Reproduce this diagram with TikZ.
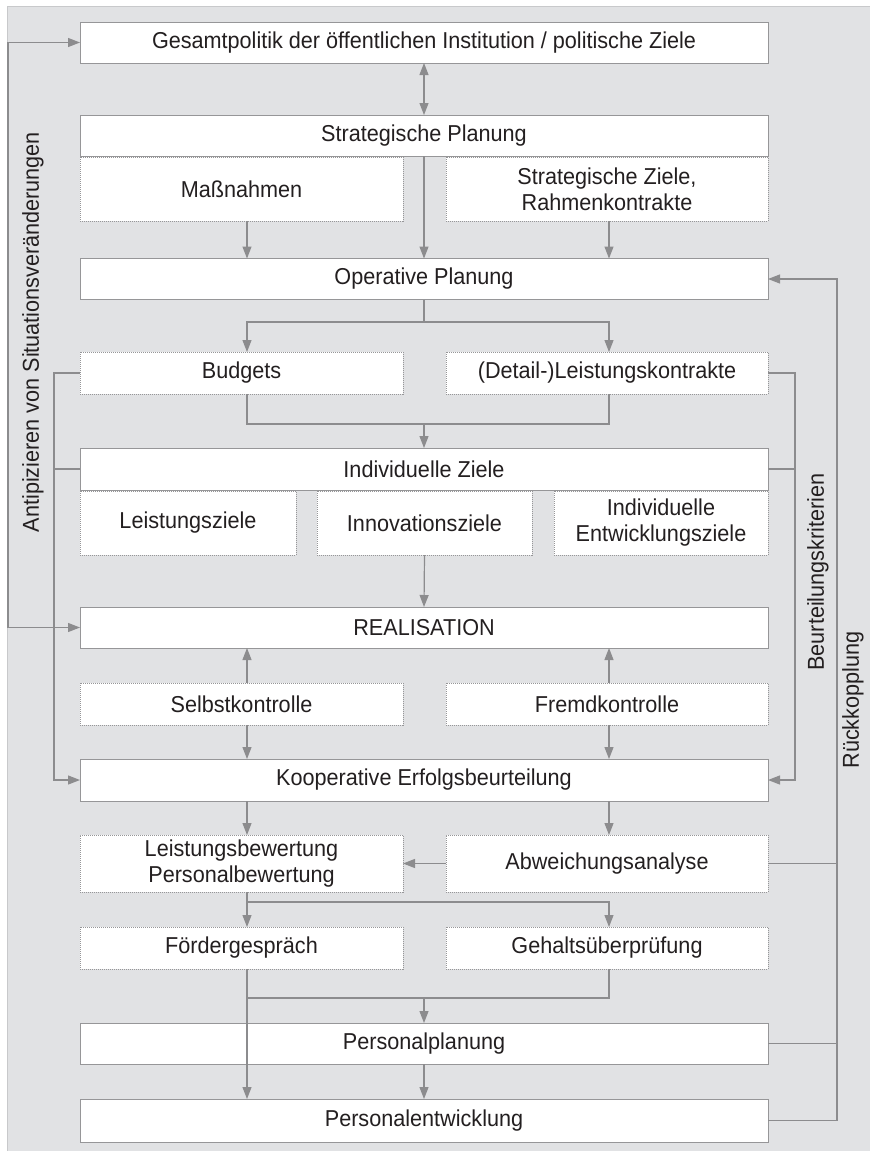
\documentclass[tikz,border=0pt]{standalone}
\usepackage{fontspec}
\setmainfont[FakeStretch=0.94]{Liberation Sans}
\usetikzlibrary{arrows.meta}
\definecolor{panel}{RGB}{225,226,228}
\definecolor{panelrim}{RGB}{200,201,203}
\definecolor{linec}{RGB}{140,140,142}
\definecolor{boxc}{RGB}{150,150,152}
\definecolor{txt}{RGB}{35,31,32}
\tikzset{
  x=1pt, y=-1pt,
  every node/.style={font=\fontsize{23}{26}\selectfont, text=txt, inner sep=0pt, outer sep=0pt, align=center},
  sbox/.style={draw=boxc, fill=white, line width=1pt},
  dbox/.style={draw=boxc, fill=white, line width=1pt, dash pattern=on 1pt off 1pt},
  conn/.style={draw=linec, line width=1.2pt},
  arr/.style={conn, -{Triangle[length=12pt,width=9pt]}},
  darr/.style={conn, {Triangle[length=12pt,width=9pt]}-{Triangle[length=12pt,width=9pt]}},
  side/.style={rotate=90, font=\fontsize{23}{26}\selectfont}
}
\begin{document}
\begin{tikzpicture}
\useasboundingbox (0,0) rectangle (870,1151);
\fill[panel] (7,6) rectangle (870,1151);
\draw[panelrim, line width=1pt] (7.5,1151) -- (7.5,6.5) -- (870,6.5);

% column coordinates
\coordinate (xl) at (247,0);
\coordinate (xm) at (424,0);
\coordinate (xr) at (609,0);
\coordinate (L0) at (8,0);
\coordinate (L1) at (54,0);
\coordinate (R1) at (795,0);
\coordinate (R2) at (837,0);

% boxes
\node[sbox, minimum width=688pt, minimum height=41pt] (gp) at (424,42.5) {Gesamtpolitik der öffentlichen Institution / politische Ziele};
\node[sbox, minimum width=688pt, minimum height=41pt] (sp) at (424,135.5) {Strategische Planung};
\node[dbox, minimum width=323pt, minimum height=64pt] (mass) at (241.5,189) {Maßnahmen};
\node[dbox, minimum width=322pt, minimum height=64pt] (sz) at (607,189) {Strategische Ziele,\\Rahmenkontrakte};
\node[sbox, minimum width=688pt, minimum height=41pt] (op) at (424,279) {Operative Planung};
\node[dbox, minimum width=323pt, minimum height=42pt] (budg) at (241.5,373) {Budgets};
\node[dbox, minimum width=322pt, minimum height=42pt] (dlk) at (607,373) {(Detail-)Leistungskontrakte};
\node[sbox, minimum width=688pt, minimum height=42pt] (iz) at (424,469) {Individuelle Ziele};
\node[dbox, minimum width=216pt, minimum height=64pt] (lz) at (188,523) {Leistungsziele};
\node[dbox, minimum width=215pt, minimum height=64pt] (inno) at (424.5,523) {Innovationsziele};
\node[dbox, minimum width=214pt, minimum height=64pt] (ent) at (661,523) {Individuelle\\Entwicklungsziele};
\node[sbox, minimum width=688pt, minimum height=41pt] (real) at (424,627.5) {REALISATION};
\node[dbox, minimum width=323pt, minimum height=42pt] (selbst) at (241.5,704) {Selbstkontrolle};
\node[dbox, minimum width=322pt, minimum height=42pt] (fremd) at (607,704) {Fremdkontrolle};
\node[sbox, minimum width=688pt, minimum height=42pt] (koop) at (424,780) {Kooperative Erfolgsbeurteilung};
\node[dbox, minimum width=323pt, minimum height=57pt] (lb) at (241.5,863.5) {Leistungsbewertung\\Personalbewertung};
\node[dbox, minimum width=322pt, minimum height=57pt] (abw) at (607,863.5) {Abweichungsanalyse};
\node[dbox, minimum width=323pt, minimum height=42pt] (foer) at (241.5,948) {Fördergespräch};
\node[dbox, minimum width=322pt, minimum height=42pt] (geh) at (607,948) {Gehaltsüberprüfung};
\node[sbox, minimum width=688pt, minimum height=41pt] (pp) at (424,1043.5) {Personalplanung};
\node[sbox, minimum width=688pt, minimum height=43pt] (pe) at (424,1120.5) {Personalentwicklung};

% side labels
\node[side] (t1) at (33,332) {Antipizieren von Situationsveränderungen};
\node[side] (t2) at (818,572) {Beurteilungskriterien};
\node[side] (t3) at (853,700) {Rückkopplung};

% junction coordinates
\coordinate (j1) at (424,322);
\coordinate (j2) at (424,424);
\coordinate (j3) at (424,902);
\coordinate (j4) at (424,998);

% connectors
\draw[darr] (gp.south) -- (sp.north);
\draw[arr] (sp.south) -- (op.north);
\draw[arr] (mass.south -| xl) -- (op.north -| xl);
\draw[arr] (sz.south -| xr) -- (op.north -| xr);
\draw[conn] (op.south) -- (j1);
\draw[arr] (j1) -| (budg.north -| xl);
\draw[arr] (j1) -| (dlk.north -| xr);
\draw[conn] (budg.south -| xl) |- (j2);
\draw[conn] (dlk.south -| xr) |- (j2);
\draw[arr] (j2) -- (iz.north);
\draw[arr] (inno.south) -- (real.north);
\draw[arr] (selbst.north -| xl) -- (real.south -| xl);
\draw[arr] (selbst.south -| xl) -- (koop.north -| xl);
\draw[arr] (fremd.north -| xr) -- (real.south -| xr);
\draw[arr] (fremd.south -| xr) -- (koop.north -| xr);
\draw[arr] (koop.south -| xl) -- (lb.north -| xl);
\draw[arr] (koop.south -| xr) -- (abw.north -| xr);
\draw[arr] (abw.west) -- (lb.east);
\draw[arr] (lb.south -| xl) -- (foer.north -| xl);
\draw[arr] (j3 -| xl) -| (geh.north -| xr);
\draw[arr] (foer.south -| xl) -- (pe.north -| xl);
\draw[conn] (geh.south -| xr) |- (j4 -| xl);
\draw[arr] (j4) -- (pp.north);
\draw[arr] (pp.south) -- (pe.north);

% left loops
\draw[darr] (gp.west) -- (gp.west -| L0) |- (real.west);
\draw[arr] (budg.west) -- (budg.west -| L1) |- (koop.west);
\draw[conn] (iz.west) -- (iz.west -| L1);

% right loops
\draw[arr] (dlk.east) -- (dlk.east -| R1) |- (koop.east);
\draw[conn] (iz.east) -- (iz.east -| R1);
\draw[arr] (pe.east) -- (pe.east -| R2) |- (op.east);
\draw[conn] (pp.east) -- (pp.east -| R2);
\draw[conn] (abw.east) -- (abw.east -| R2);
\end{tikzpicture}
\end{document}
